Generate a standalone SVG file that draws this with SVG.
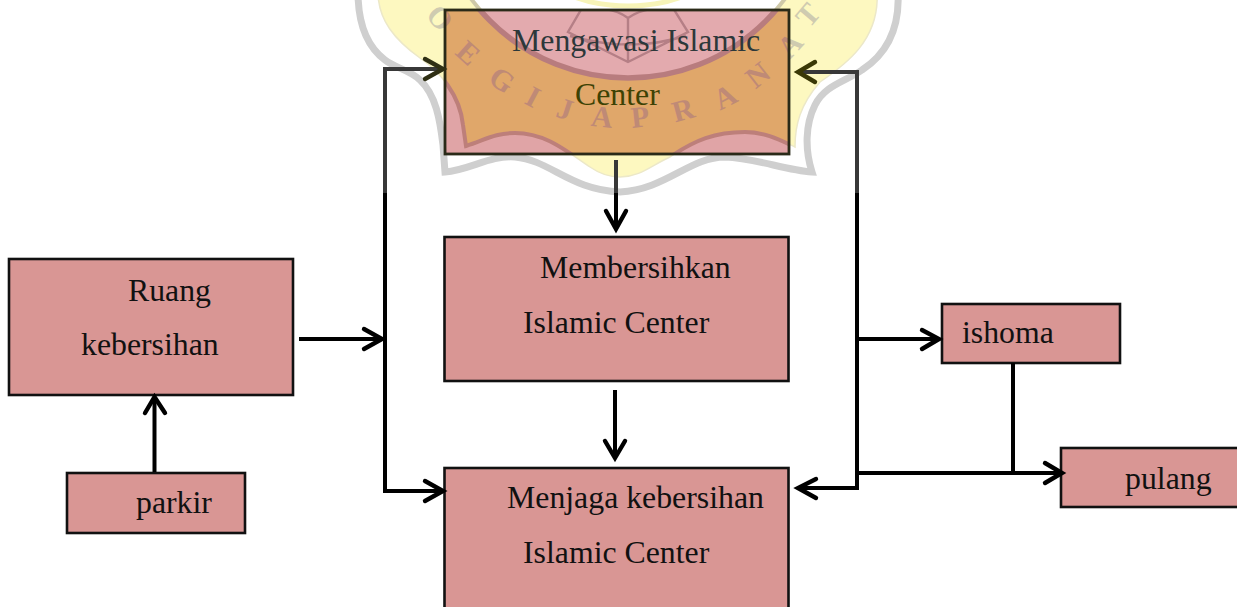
<svg xmlns="http://www.w3.org/2000/svg" width="1237" height="607" viewBox="0 0 1237 607">
<style>
.box{fill:#d99694;stroke:#111;stroke-width:2.6}
.t{font-family:"Liberation Serif","Times New Roman",serif;font-size:31.8px;fill:#111}
.c{fill:none;stroke:#000;stroke-width:4;stroke-linejoin:miter}
.c2{fill:none;stroke:#383838;stroke-width:4}
.h{fill:none;stroke:#000;stroke-width:4.4;stroke-linecap:round;stroke-linejoin:miter}
.wl{font-family:"Liberation Serif",serif;font-size:30px;font-weight:bold;text-anchor:middle}
</style>
<defs>
<clipPath id="inbox"><rect x="445" y="10" width="344" height="144"/></clipPath>
<path id="outer" d="M358,-8 C358,20 365,45 385,60 C395,68 410,70 420,80 C436,95 440,120 443,145 L445,172 C470,170 490,155 515,157 C550,160 570,190 620,192 C665,190 690,157 725,157 C755,158 785,170 812,172 C805,150 805,125 815,105 C825,85 845,82 862,70 C885,55 900,30 898,-8 Z"/>
<path id="yellow" d="M378,-8 C378,20 395,40 420,58 C440,72 460,95 463,125 L466,146 C485,140 495,133 515,133 C545,133 565,150 590,167 C600,174 610,177 620,177 C640,177 652,165 670,157 C695,140 715,132 745,132 C765,132 780,140 795,147 C795,125 800,105 820,82 C845,65 880,40 877,-8 Z"/>
<circle id="disc" cx="628" cy="-117" r="195"/>
<ellipse id="ring" cx="628" cy="-60" rx="105" ry="66"/>
<path id="book" d="M582,8 L568,32 L628,62 L688,32 L673,8 M582,8 Q612,6 628,18 Q645,6 673,8 M628,18 L628,62 M570,36 Q610,46 628,44 Q650,46 686,36"/>
<g id="letters">
<text class="wl" transform="translate(440,18) rotate(48) translate(0,10)">O</text>
<text class="wl" transform="translate(468,53) rotate(42) translate(0,10)">E</text>
<text class="wl" transform="translate(502,80) rotate(35) translate(0,10)">G</text>
<text class="wl" transform="translate(533,97) rotate(28) translate(0,10)">I</text>
<text class="wl" transform="translate(565,109) rotate(18) translate(0,10)">J</text>
<text class="wl" transform="translate(602,117) rotate(6) translate(0,10)">A</text>
<text class="wl" transform="translate(640,117) rotate(-6) translate(0,10)">P</text>
<text class="wl" transform="translate(683,110) rotate(-15) translate(0,10)">R</text>
<text class="wl" transform="translate(725,97) rotate(-27) translate(0,10)">A</text>
<text class="wl" transform="translate(758,75) rotate(-38) translate(0,10)">N</text>
<text class="wl" transform="translate(790,45) rotate(-47) translate(0,10)">A</text>
<text class="wl" transform="translate(808,15) rotate(-50) translate(0,10)">T</text>
</g>
</defs>
<rect width="1237" height="607" fill="#fff"/>
<g id="watermark">
<use href="#outer" fill="#fff" stroke="#cfcfcf" stroke-width="7"/>
<use href="#yellow" fill="#fdf8c0" stroke="#ece8c8" stroke-width="1.5"/>
<use href="#disc" fill="#fff" stroke="#cfc9a8" stroke-width="4"/>
<use href="#ring" fill="#fff" stroke="#f7f4b8" stroke-width="5"/>
<use href="#letters" fill="#cfcbb0"/>
</g>
<g id="node-mengawasi">
<rect x="445" y="10" width="344" height="144" fill="#e0a4a6"/>
<g clip-path="url(#inbox)">
<use href="#outer" fill="#e0a4a6" stroke="#c98d8d" stroke-width="6"/>
<use href="#yellow" fill="#e0a76a" stroke="#bd7f7a" stroke-width="4"/>
<use href="#disc" fill="#e3aaae" stroke="#b87c7e" stroke-width="5.500"/>
<use href="#book" fill="none" stroke="#b57f86" stroke-width="2.4"/>
<use href="#letters" fill="#bf8a76"/>
</g>
<rect x="445" y="10" width="344" height="144" fill="none" stroke="#2a2a18" stroke-width="2.8"/>
<text class="t" x="512" y="51" style="fill:#2d383a">Mengawasi Islamic</text>
<text class="t" x="575" y="105" style="fill:#3d4204">Center</text>
</g>
<g id="node-membersihkan">
<rect class="box" x="444.500" y="237" width="344" height="144"/>
<text class="t" x="540" y="278">Membersihkan</text>
<text class="t" x="523" y="333">Islamic Center</text>
</g>
<g id="node-menjaga">
<rect class="box" x="444.500" y="468" width="344" height="150"/>
<text class="t" x="507" y="508">Menjaga kebersihan</text>
<text class="t" x="523" y="563">Islamic Center</text>
</g>
<g id="node-ruang">
<rect class="box" x="9" y="259" width="284" height="136"/>
<text class="t" x="128" y="301">Ruang</text>
<text class="t" x="81" y="355">kebersihan</text>
</g>
<g id="node-parkir">
<rect class="box" x="67" y="473" width="178" height="60"/>
<text class="t" x="136" y="513">parkir</text>
</g>
<g id="node-ishoma">
<rect class="box" x="942" y="304" width="178" height="59"/>
<text class="t" x="962" y="343">ishoma</text>
</g>
<g id="node-pulang">
<rect class="box" x="1061" y="448" width="190" height="59"/>
<text class="t" x="1125" y="489">pulang</text>
</g>
<g id="connectors">
<path class="c2" d="M443,69 H385 V195"/>
<path class="c" d="M385,193 V491 H443"/>
<path class="h" d="M425,59 L443,69 L425,79" style="stroke:#2f2f14"/>
<path class="h" d="M425,481 L443,491 L425,501"/>
<path class="c" d="M299,339 H382"/>
<path class="h" d="M364,329 L382,339 L364,349"/>
<path class="c" d="M154.500,472 V398"/>
<path class="h" d="M145,413 L154.500,397 L165,413"/>
<path class="c2" d="M616,160 V195"/>
<path class="c" d="M616,193 V228"/>
<path class="h" d="M606,211 L616,229 L626,211"/>
<path class="c" d="M615,390 V457"/>
<path class="h" d="M605,441 L615,458 L625,441"/>
<path class="c2" d="M799,72 H857 V195"/>
<path class="c" d="M857,193 V488 H799"/>
<path class="h" d="M815,62 L798,72 L815,82" style="stroke:#3a3806"/>
<path class="h" d="M816,479 L798,488 L816,498"/>
<path class="c" d="M857,339 H939"/>
<path class="h" d="M922,330 L939,339 L922,349"/>
<path class="c" d="M857,473 H1062"/>
<path class="h" d="M1045,463 L1062,473 L1045,483"/>
<path class="c" d="M1013,363 V473"/>
</g>
</svg>
